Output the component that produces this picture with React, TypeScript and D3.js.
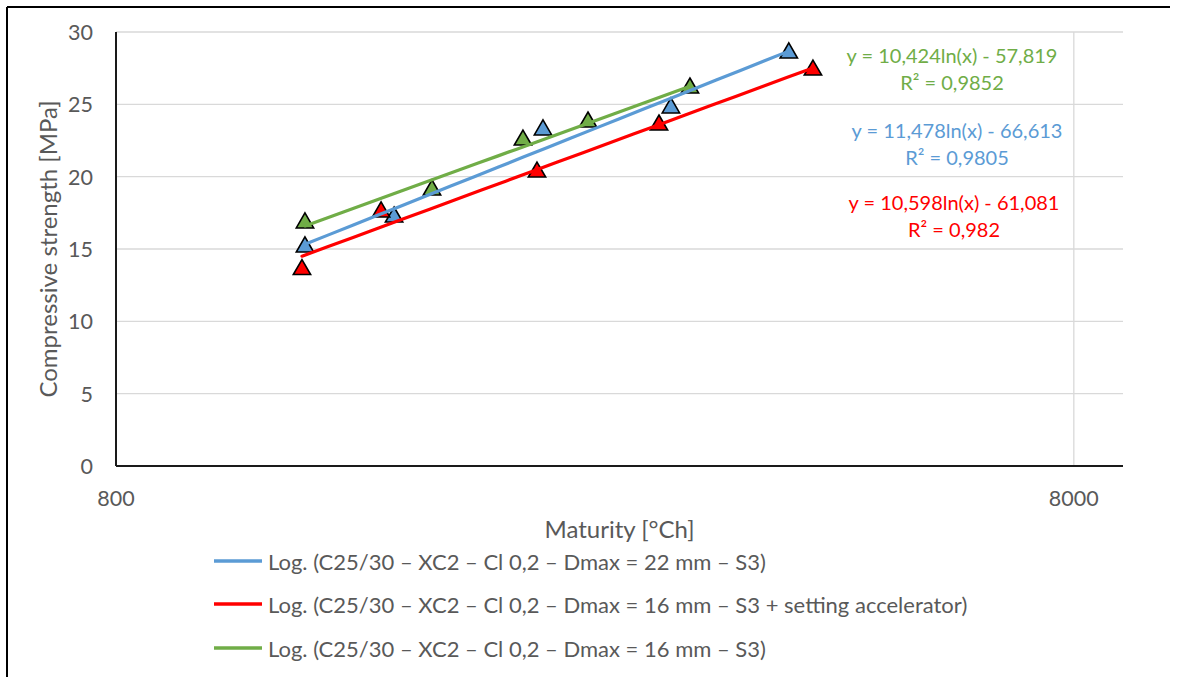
import React from "react";
import * as d3 from "d3";

const W = 1177;
const H = 677;

const seriesNames = [
  "Log. (C25/30 – XC2 – Cl 0,2 – Dmax = 22 mm – S3)",
  "Log. (C25/30 – XC2 – Cl 0,2 – Dmax = 16 mm – S3 + setting accelerator)",
  "Log. (C25/30 – XC2 – Cl 0,2 – Dmax = 16 mm – S3)",
];
const seriesColors = ["#5B9BD5", "#FF0000", "#70AD47"];

const blueX = [1260, 1561, 2233, 3037, 4032];
const blueY = [15.14, 17.21, 23.23, 24.75, 28.55];
const redX = [1251, 1513, 2201, 2951, 4273];
const redY = [13.58, 17.56, 20.32, 23.57, 27.37];
const greenX = [1260, 1710, 2128, 2488, 3179];
const greenY = [16.8, 19.08, 22.53, 23.78, 26.13];

const slopes = [11.478, 10.598, 10.424];
const intercepts = [-66.613, -61.081, -57.819];
const eqLabels = [
  "y = 11,478ln(x) - 66,613",
  "y = 10,598ln(x) - 61,081",
  "y = 10,424ln(x) - 57,819",
];
const r2Labels = ["R² = 0,9805", "R² = 0,982", "R² = 0,9852"];

const yTicks = [0, 5, 10, 15, 20, 25, 30];
const xTicks = [800, 8000];

const FONT = "Lato, 'Open Sans', sans-serif";
const GRAY = "#595959";

export default function App() {
  const left = 116, right = 1123, top = 32, bottom = 466;
  const x = d3.scaleLog().domain([800, 9004]).range([left, right]);
  const y = d3.scaleLinear().domain([0, 30]).range([bottom, top]);

  const series = [
    { xs: blueX, ys: blueY },
    { xs: redX, ys: redY },
    { xs: greenX, ys: greenY },
  ];

  const tri = d3.symbol().type(d3.symbolTriangle).size(130);

  const eqPos = [
    { cx: 957, cy: 130 },
    { cx: 954, cy: 202 },
    { cx: 952, cy: 55 },
  ];

  const legendY = [561, 604, 648];

  return (
    <svg
      width={W}
      height={H}
      style={{ position: "absolute", left: 0, top: 0, background: "#fff" }}
      fontFamily={FONT}
    >
      <rect x={0} y={0} width={W} height={H} fill="#fff" />
      {/* outer border (top + left) */}
      <line x1={7} y1={7} x2={1170} y2={7} stroke="#000" strokeWidth={2} />
      <line x1={7} y1={7} x2={7} y2={H} stroke="#000" strokeWidth={2} />

      {/* gridlines */}
      {yTicks.filter((t) => t > 0).map((t) => (
        <line key={"gy" + t} x1={left} x2={right} y1={y(t)} y2={y(t)} stroke="#D9D9D9" strokeWidth={1.3} />
      ))}
      {xTicks.slice(1).map((t) => (
        <line key={"gx" + t} x1={x(t)} x2={x(t)} y1={top} y2={bottom} stroke="#D9D9D9" strokeWidth={1.3} />
      ))}

      {/* axes */}
      <line x1={left} x2={left} y1={top} y2={bottom} stroke="#1a1a1a" strokeWidth={2} />
      <line x1={left} x2={right} y1={bottom} y2={bottom} stroke="#1a1a1a" strokeWidth={2} />

      {/* tick labels */}
      {yTicks.map((t) => (
        <text key={"ty" + t} x={93} y={y(t)} textAnchor="end" dominantBaseline="central" fontSize={21.5} fill={GRAY}>
          {t}
        </text>
      ))}
      {xTicks.map((t) => (
        <text key={"tx" + t} x={x(t)} y={498} textAnchor="middle" dominantBaseline="central" fontSize={21.5} fill={GRAY}>
          {t}
        </text>
      ))}

      {/* axis titles */}
      <text
        transform={`translate(47,${(top + bottom) / 2}) rotate(-90)`}
        textAnchor="middle"
        dominantBaseline="central"
        fontSize={24}
        fill={GRAY}
      >
        Compressive strength [MPa]
      </text>
      <text x={(left + right) / 2} y={528} textAnchor="middle" dominantBaseline="central" fontSize={24} fill={GRAY}>
        Maturity [°Ch]
      </text>

      {/* markers */}
      {series.map((s, i) =>
        s.xs.map((xv, j) => (
          <path
            key={`m${i}-${j}`}
            d={tri() as string}
            transform={`translate(${x(xv)},${y(s.ys[j])})`}
            fill={seriesColors[i]}
            stroke="#000"
            strokeWidth={1.6}
          />
        ))
      )}

      {/* trendlines */}
      {series.map((s, i) => {
        const x0 = d3.min(s.xs) as number;
        const x1 = d3.max(s.xs) as number;
        const pts = d3.range(0, 21).map((k) => {
          const xv = x0 * Math.pow(x1 / x0, k / 20);
          return [x(xv), y(slopes[i] * Math.log(xv) + intercepts[i])] as [number, number];
        });
        return (
          <path key={"tl" + i} d={d3.line()(pts) as string} fill="none" stroke={seriesColors[i]} strokeWidth={3.2} strokeLinecap="round" />
        );
      })}

      {/* equation labels */}
      {eqPos.map((p, i) => (
        <g key={"eq" + i} fill={seriesColors[i]} fontSize={20}>
          <text x={p.cx} y={p.cy} textAnchor="middle" dominantBaseline="central">
            {eqLabels[i]}
          </text>
          <text x={p.cx} y={p.cy + 27} textAnchor="middle" dominantBaseline="central">
            {r2Labels[i]}
          </text>
        </g>
      ))}

      {/* legend */}
      {seriesNames.map((n, i) => (
        <g key={"lg" + i}>
          <line x1={214} x2={262} y1={legendY[i]} y2={legendY[i]} stroke={seriesColors[i]} strokeWidth={3.5} />
          <text x={268} y={legendY[i]} dominantBaseline="central" fontSize={22} fill={GRAY}>
            {n}
          </text>
        </g>
      ))}
    </svg>
  );
}
